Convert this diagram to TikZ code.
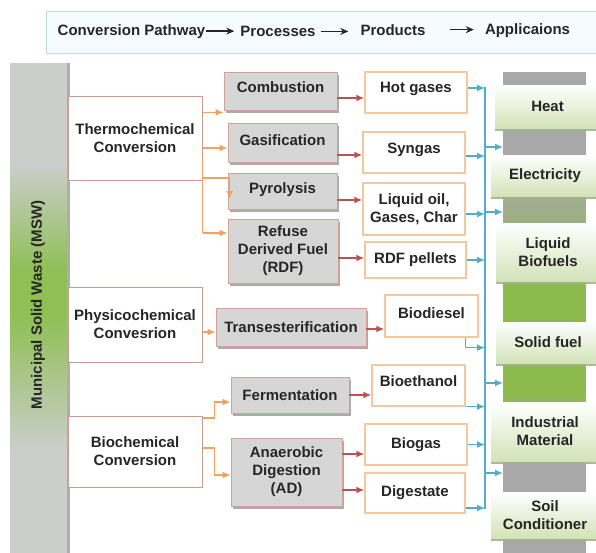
\documentclass[tikz,border=0pt]{standalone}
\usepackage{fontspec}
\setmainfont{Liberation Sans}
\usetikzlibrary{arrows.meta,shadows}

\definecolor{txt}{HTML}{262626}
\definecolor{hdrline}{HTML}{BBDCE2}
\definecolor{hdrfill}{HTML}{F6FBFB}
\definecolor{mswgray}{HTML}{CBCECB}
\definecolor{mswgreen}{HTML}{8FBF55}
\definecolor{bargray}{HTML}{A8A8A8}
\definecolor{bargreen}{HTML}{8CB94B}
\definecolor{catline}{HTML}{C99C92}
\definecolor{procfill}{HTML}{D6D6D6}
\definecolor{procline}{HTML}{CFA398}
\definecolor{prodline}{HTML}{F3C89E}
\definecolor{cardgreen}{HTML}{D3E3B8}
\definecolor{cardshadow}{HTML}{A3B38C}
\definecolor{orangeln}{HTML}{F2A15F}
\definecolor{redln}{HTML}{B85450}
\definecolor{blueln}{HTML}{4FAFCB}

\tikzset{
  txtbase/.style={text=txt, font=\fontsize{15}{18}\selectfont\bfseries, align=center, inner sep=2pt},
  catbox/.style={txtbase, fill=white, draw=catline, line width=1pt},
  procbox/.style={txtbase, fill=procfill, draw=procline, line width=0.8pt,
    drop shadow={shadow xshift=2pt, shadow yshift=-3pt, fill=black!60, opacity=.55}},
  prodbox/.style={txtbase, fill=white, draw=prodline, line width=1.3pt},
  appcard/.style={txtbase, top color=white, bottom color=cardgreen, draw=none,
    drop shadow={shadow xshift=0pt, shadow yshift=-3pt, fill=cardshadow, opacity=.9}},
  tlift/.style={text height=11pt, text depth=#1},
  hdrtext/.style={text=txt, font=\fontsize{15}{18}\selectfont\bfseries, inner sep=0pt, anchor=base},
  harrow/.style={black!85, line width=1.4pt, -{Stealth[length=8pt,width=7pt]}},
  oarrow/.style={orangeln, line width=1.5pt, -{Latex[length=8pt,width=7pt]}},
  oline/.style={orangeln, line width=1.5pt},
  rarrow/.style={redln, line width=1.5pt, -{Latex[length=8pt,width=7pt]}},
  barrow/.style={blueln, line width=1.5pt, -{Latex[length=8pt,width=7pt]}},
  bline/.style={blueln, line width=1.8pt},
}

\begin{document}
\begin{tikzpicture}[x=1pt,y=-1pt]
\useasboundingbox (0,0) rectangle (596,552);
\clip (0,0) rectangle (596,552);
\fill[white] (0,0) rectangle (596,552);

% header strip
\node[draw=hdrline, fill=hdrfill, line width=1pt, minimum width=556pt, minimum height=42pt,
      anchor=north west, inner sep=0pt] (hdr) at (46,11) {};
\node[hdrtext] (hcp) at (131.5,35) {Conversion Pathway};
\node[hdrtext] (hpr) at (278,36.5) {Processes};
\node[hdrtext] (hpd) at (393,35) {Products};
\node[hdrtext] (hap) at (527.5,34) {Applicaions};
\draw[harrow, shorten <=1pt, shorten >=6pt] (hcp.east) -- (hcp.east -| hpr.west);
\draw[harrow, shorten <=5pt, shorten >=12pt] (hpr.east) -- (hpr.east -| hpd.west);
\draw[harrow, shorten <=24pt, shorten >=11pt] (hpd.east) -- (hpd.east -| hap.west);

% municipal solid waste bar
\fill[black!32] (66,63) rectangle (69.5,553);
\fill[mswgray] (10,63) rectangle (67,165.5);
\shade[top color=mswgray, bottom color=mswgreen] (10,165) rectangle (67,270.5);
\fill[mswgreen] (10,270) rectangle (67,315.5);
\shade[top color=mswgreen, bottom color=mswgray] (10,315) rectangle (67,450.5);
\fill[mswgray] (10,450) rectangle (67,553);
\node[txtbase, rotate=90] (msw) at (38,305) {Municipal Solid Waste (MSW)};

% applications bar
\fill[bargray] (503,72) rectangle (585,170.5);
\shade[top color=bargray, bottom color=bargreen] (503,170) rectangle (585,290.5);
\fill[bargreen] (503,290) rectangle (585,390.5);
\shade[top color=bargreen, bottom color=bargray] (503,390) rectangle (585,465.5);
\fill[bargray] (503,465) rectangle (585,553);
\draw[black!35, line width=1pt] (585,72) -- (585,553);
\node[minimum width=82pt, minimum height=481pt, inner sep=0pt, anchor=north west] (appbar) at (503,72) {};

% conversion pathways
\node[catbox, minimum width=134pt, minimum height=84pt] (thermo) at (135,138) {Thermochemical\\Conversion};
\node[catbox, minimum width=134pt, minimum height=75pt] (physico) at (135,324.5) {Physicochemical\\Convesrion};
\node[catbox, minimum width=134pt, minimum height=71pt] (bio) at (135,451.5) {Biochemical\\Conversion};

% processes
\node[procbox, tlift=8.6pt, minimum width=113pt, minimum height=38pt] (comb) at (280.5,91) {Combustion};
\node[procbox, tlift=5.6pt, minimum width=109pt, minimum height=39pt] (gas) at (282.5,142.5) {Gasification};
\node[procbox, tlift=6.6pt, minimum width=109pt, minimum height=36pt] (pyro) at (282.5,191) {Pyrolysis};
\node[procbox, minimum width=110pt, minimum height=64pt] (rdf) at (283,251) {Refuse\\Derived Fuel\\(RDF)};
\node[procbox, minimum width=150pt, minimum height=38pt] (trans) at (291,327) {Transesterification};
\node[procbox, minimum width=118pt, minimum height=36pt] (ferm) at (290,395) {Fermentation};
\node[procbox, minimum width=111pt, minimum height=68pt] (ad) at (286.5,472) {Anaerobic\\Digestion\\(AD)};

% products
\node[prodbox, tlift=11.6pt, minimum width=102pt, minimum height=41pt] (hot) at (416,92.5) {Hot gases};
\node[prodbox, tlift=9.6pt, minimum width=102pt, minimum height=41pt] (syn) at (414,152.5) {Syngas};
\node[prodbox, minimum width=102pt, minimum height=52pt] (liq) at (414,209) {Liquid oil,\\Gases, Char};
\node[prodbox, tlift=4.6pt, minimum width=101pt, minimum height=36pt] (rdfp) at (415.5,260) {RDF pellets};
\node[prodbox, tlift=6.6pt, minimum width=93pt, minimum height=42pt] (bdsl) at (431.5,316) {Biodiesel};
\node[prodbox, tlift=9.6pt, minimum width=93pt, minimum height=41pt] (beth) at (418.5,385.5) {Bioethanol};
\node[prodbox, minimum width=102pt, minimum height=41pt] (bgas) at (416,444.5) {Biogas};
\node[prodbox, minimum width=100pt, minimum height=40pt] (dig) at (415,493) {Digestate};

% applications
\node[appcard, minimum width=105pt, minimum height=43pt] (heat) at (547.5,106.5) {Heat};
\node[appcard, minimum width=108pt, minimum height=41pt] (elec) at (545,175.5) {Electricity};
\node[appcard, minimum width=104pt, minimum height=58pt] (liqbio) at (548,252) {Liquid\\Biofuels};
\node[appcard, minimum width=104pt, minimum height=41pt] (solid) at (548,342.5) {Solid fuel};
\node[appcard, minimum width=108pt, minimum height=59pt] (indus) at (545,431.5) {Industrial\\Material};
\node[appcard, minimum width=108pt, minimum height=46pt] (soil) at (545,515) {Soil\\Conditioner};

% pathway -> process (orange)
\draw[oline] ([yshift=-19pt]thermo.east) -- ([yshift=-95pt]thermo.east);
\draw[oarrow] ([yshift=-2pt]thermo.east |- comb.south west) -- ([yshift=-2pt]comb.south west);
\draw[oarrow] ([yshift=-5.5pt]gas.west -| thermo.east) -- ([yshift=-5.5pt]gas.west);
\draw[oarrow] ([yshift=-40pt]thermo.east) -| ([xshift=2pt,yshift=-8pt]pyro.west);
\draw[oarrow] ([yshift=18pt]rdf.west -| thermo.east) -- ([yshift=18pt]rdf.west);
\draw[oarrow] ([yshift=-5pt]trans.west -| physico.east) -- ([yshift=-5pt]trans.west);
\draw[oarrow] ([yshift=33.5pt]bio.east) -- ++(12,0) |- ([yshift=-7pt]ferm.west);
\draw[oarrow] ([yshift=3.5pt]bio.east) -- ++(12,0) |- ([yshift=-3pt]ad.west);

% process -> product (red)
\draw[rarrow] ([yshift=-7pt]comb.east) -- ([yshift=-7pt]comb.east -| hot.west);
\draw[rarrow] ([yshift=-12.5pt]gas.east) -- ([yshift=-12.5pt]gas.east -| syn.west);
\draw[rarrow] ([yshift=-9pt]pyro.east) -- ([yshift=-9pt]pyro.east -| liq.west);
\draw[rarrow] ([yshift=-7pt]rdf.east) -- ([yshift=-7pt]rdf.east -| rdfp.west);
\draw[rarrow] ([yshift=-2pt]trans.east) -- ([yshift=-2pt]trans.east -| bdsl.west);
\draw[rarrow] (ferm.east) -- (ferm.east -| beth.west);
\draw[rarrow] ([yshift=18pt]ad.east) -- ([yshift=18pt]ad.east -| bgas.west);
\draw[rarrow] ([yshift=-18pt]ad.east) -- ([yshift=-18pt]ad.east -| dig.west);

% product -> collector (blue)
\coordinate (trunk) at (485,0);
\coordinate (trunktop) at (485,87);
\coordinate (trunkbot) at (485,509);
\draw[bline] (trunktop) -- (trunkbot);
\draw[barrow] ([yshift=4.5pt]hot.east) -- ([yshift=4.5pt]hot.east -| trunk);
\draw[barrow] ([yshift=-3.5pt]syn.east) -- ([yshift=-3.5pt]syn.east -| trunk);
\draw[barrow] ([yshift=-5pt]liq.east) -- ([yshift=-5pt]liq.east -| trunk);
\draw[barrow] (rdfp.east) -- (rdfp.east -| trunk);
\coordinate (bdslturn) at ([xshift=-13pt,yshift=-10pt]bdsl.south east);
\draw[barrow] ([xshift=-13pt]bdsl.south east) -- (bdslturn) -- (bdslturn -| trunk);
\draw[barrow] (beth.south east) -- (beth.south east -| trunk);
\draw[barrow] (bgas.east) -- (bgas.east -| trunk);
\draw[barrow] ([yshift=-15pt]dig.east) -- ([yshift=-15pt]dig.east -| trunk);

% collector -> applications
\coordinate (j1) at (485,147);
\coordinate (j2) at (485,212);
\coordinate (j3) at (485,383);
\coordinate (j4) at (485,473);
\draw[barrow] (j1) -- (j1 -| appbar.west);
\draw[barrow] (j2) -- (j2 -| appbar.west);
\draw[barrow] (j3) -- (j3 -| appbar.west);
\draw[barrow] (j4) -- (j4 -| appbar.west);
\end{tikzpicture}
\end{document}
